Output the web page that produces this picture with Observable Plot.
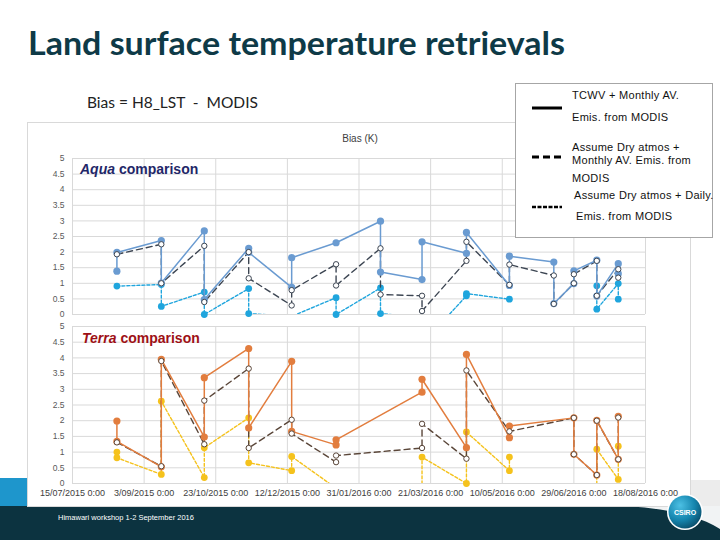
<!DOCTYPE html>
<html><head><meta charset="utf-8">
<script src="https://cdn.jsdelivr.net/npm/d3@7"></script>
<script src="https://cdn.jsdelivr.net/npm/@observablehq/plot@0.6"></script>
<style>
html,body{margin:0;padding:0;}
body{width:720px;height:540px;position:relative;overflow:hidden;background:#fff;font-family:"Liberation Sans",Arial,sans-serif;}
.layer{position:absolute;left:0;top:0;}
#aqua{position:absolute;left:27px;top:150px;}
#terra{position:absolute;left:27px;top:318px;}
</style></head><body>
<svg class="layer" width="720" height="540" id="bg">
  <defs>
    <radialGradient id="lg" cx="35%" cy="30%" r="75%">
      <stop offset="0" stop-color="#4cc0e4"/><stop offset="0.6" stop-color="#1585ae"/><stop offset="1" stop-color="#0a4f6c"/>
    </radialGradient>
  </defs>
  <rect x="0" y="478" width="30" height="30" fill="#1e96cc"/>
  <rect x="688" y="480" width="32" height="28" fill="#ececec"/>
  <rect x="0" y="506" width="720" height="34" fill="#0c3340"/>
  <path d="M 625 506 C 665 508 700 516 720 529 L 720 506 Z" fill="#f1f3f4"/>
  <rect x="27.5" y="122.5" width="663" height="384" fill="#fff" stroke="#d9d9d9"/>
  <text x="28" y="55" font-family="Lato" font-weight="700" font-size="32" fill="#0e3a47" textLength="537" lengthAdjust="spacingAndGlyphs">Land surface temperature retrievals</text>
  <text x="87" y="108" font-family="Lato" font-size="15.5" fill="#222" style="white-space:pre">Bias = H8_LST  -  MODIS</text>
  <text x="360" y="142" font-family="Liberation Sans" font-size="10" fill="#404040" text-anchor="middle">Bias (K)</text>
  <text x="58" y="520" font-family="Liberation Sans" font-size="7.5" fill="#ffffff">Himawari workshop 1-2 September 2016</text>
  <circle cx="685" cy="512" r="18" fill="#ffffff"/>
  <circle cx="685" cy="512" r="16.5" fill="url(#lg)"/>
  <text x="685" y="515" font-family="Liberation Sans" font-weight="700" font-size="7" fill="#ffffff" text-anchor="middle">CSIRO</text>
</svg>
<div id="aqua"></div>
<div id="terra"></div>
<svg class="layer" width="720" height="540" id="fg" style="pointer-events:none">
  <text x="80" y="174" font-family="Liberation Sans" font-weight="700" font-size="14" fill="#1f2768"><tspan font-style="italic">Aqua</tspan> comparison</text>
  <text x="82" y="343" font-family="Liberation Sans" font-weight="700" font-size="14" fill="#9e1016"><tspan font-style="italic">Terra</tspan> comparison</text>
  <g id="legend"></g>
</svg>
<script>
// ---------- data ----------
const xStart = "2015-07-15", xEnd = "2016-08-18";
const tickDateStrings = ["2015-07-15","2015-09-03","2015-10-23","2015-12-12","2016-01-31","2016-03-21","2016-05-10","2016-06-29","2016-08-18"];
const tickLabels = ["15/07/2015 0:00","3/09/2015 0:00","23/10/2015 0:00","12/12/2015 0:00","31/01/2016 0:00","21/03/2016 0:00","10/05/2016 0:00","29/06/2016 0:00","18/08/2016 0:00"];
const yTicks = [0,0.5,1,1.5,2,2.5,3,3.5,4,4.5,5];
const yLabels = ["0","0.5","1","1.5","2","2.5","3","3.5","4","4.5","5"];

const legendLabels = [["TCWV + Monthly AV.","Emis. from MODIS"],["Assume Dry atmos +","Monthly AV. Emis. from","MODIS"],["Assume Dry atmos + Daily.","Emis. from MODIS"]];

// Aqua: TCWV + monthly AV emissivity
const aquaSolidDates = ["2015-08-15","2015-08-15","2015-09-15","2015-09-15","2015-10-15","2015-10-15","2015-11-15","2015-11-15","2015-12-15","2015-12-15","2016-01-15","2016-02-15","2016-02-15","2016-03-15","2016-03-15","2016-04-15","2016-04-15","2016-05-15","2016-05-15","2016-06-15","2016-06-15","2016-06-29","2016-06-29","2016-07-15","2016-07-15","2016-07-30","2016-07-30"];
const aquaSolidValues = [1.39,1.99,2.37,1.01,2.68,0.48,2.12,1.99,0.87,1.82,2.30,2.99,1.36,1.12,2.33,1.96,2.63,0.93,1.87,1.68,0.35,0.99,1.40,1.74,0.59,1.63,1.31];
// Aqua: dry atmosphere + monthly AV emissivity
const aquaDryMonthlyDates = ["2015-08-15","2015-09-15","2015-09-15","2015-10-15","2015-10-15","2015-11-15","2015-11-15","2015-12-15","2015-12-15","2016-01-15","2016-01-15","2016-02-15","2016-02-15","2016-03-15","2016-03-15","2016-04-15","2016-04-15","2016-05-15","2016-05-15","2016-06-15","2016-06-15","2016-06-29","2016-06-29","2016-07-15","2016-07-15","2016-07-30","2016-07-30"];
const aquaDryMonthlyValues = [1.93,2.25,1.00,2.20,0.40,2.00,1.16,0.29,0.78,1.61,0.93,2.12,0.64,0.60,0.11,1.72,2.33,0.95,1.60,1.25,0.34,1.00,1.29,1.72,0.60,1.45,1.18];
// Aqua: dry atmosphere + daily emissivity
const aquaDryDailyDates = ["2015-08-15","2015-09-15","2015-09-15","2015-10-15","2015-10-15","2015-11-15","2015-11-15","2015-12-15","2016-01-15","2016-01-15","2016-02-15","2016-02-15","2016-03-15","2016-03-15","2016-04-15","2016-04-15","2016-05-15",null,"2016-07-15","2016-07-15","2016-07-30","2016-07-30"];
const aquaDryDailyValues = [0.91,0.96,0.26,0.72,0.00,0.83,0.03,-0.06,0.54,0.00,0.85,0.03,-0.10,-0.95,0.60,0.67,0.49,null,0.92,0.17,0.99,0.49];

// Terra
const terraSolidDates = ["2015-08-15","2015-08-15","2015-09-15","2015-09-15","2015-10-15","2015-10-15","2015-11-15","2015-11-15","2015-12-15","2015-12-15","2016-01-15","2016-01-15","2016-03-15","2016-03-15","2016-04-15","2016-04-15","2016-05-15","2016-05-15","2016-06-29","2016-06-29","2016-07-15","2016-07-15","2016-07-30","2016-07-30"];
const terraSolidValues = [1.99,1.34,0.53,3.95,1.48,3.37,4.30,1.77,3.89,1.66,1.23,1.39,2.91,3.32,1.14,4.11,1.46,1.83,2.09,0.93,0.27,2.01,0.77,2.14];
const terraDryMonthlyDates = ["2015-08-15","2015-09-15","2015-09-15","2015-10-15","2015-10-15","2015-11-15","2015-11-15","2015-12-15","2015-12-15","2016-01-15","2016-01-15","2016-03-15","2016-03-15","2016-04-15","2016-04-15","2016-05-15","2016-06-29","2016-06-29","2016-07-15","2016-07-15","2016-07-30","2016-07-30"];
const terraDryMonthlyValues = [1.31,0.55,3.90,1.25,2.64,3.66,1.13,2.03,1.59,0.68,0.89,1.13,1.90,0.79,3.60,1.66,2.09,0.93,0.27,2.00,0.77,2.10];
const terraDryDailyDates = ["2015-08-15","2015-08-15","2015-09-15","2015-09-15","2015-10-15","2015-10-15","2015-11-15","2015-11-15","2015-12-15","2015-12-15","2016-01-15","2016-03-15","2016-03-15","2016-04-15","2016-04-15","2016-05-15","2016-05-15",null,"2016-07-15","2016-07-15","2016-07-30","2016-07-30"];
const terraDryDailyValues = [1.00,0.82,0.29,2.62,0.19,1.14,2.09,0.66,0.41,0.86,-0.15,-0.60,0.84,0.00,1.64,0.41,0.84,null,-0.50,1.09,0.13,1.19];

// ---------- helpers ----------
const parse = d3.utcParse("%Y-%m-%d");
const rows = (dates, values) => dates.map((d, i) => ({date: d == null ? null : parse(d), value: values[i]}));
const tickDates = tickDateStrings.map(parse);
const fmtX = d => tickLabels[tickDates.findIndex(t => +t === +d)];
const fmtY = d => yLabels[yTicks.indexOf(d)];
const visible = d => d.value != null && d.value >= 0;

function chart({solid, dryM, dryD, cSolid, cDryM, cDryD, showX, height, marginBottom}) {
  const marks = [
    Plot.gridY(yTicks, {stroke: "#d9d9d9", strokeOpacity: 1}),
    Plot.gridX(tickDates, {stroke: "#d9d9d9", strokeOpacity: 1}),
    Plot.axisY({ticks: yTicks, tickFormat: fmtY, tickSize: 0, tickPadding: 8, label: null, fill: "#595959", fontSize: 8.5}),
    Plot.line(dryD, {x: "date", y: "value", stroke: cDryD, strokeWidth: 1.4, strokeDasharray: "3,2", clip: true}),
    Plot.dot(dryD.filter(visible), {x: "date", y: "value", r: 3.4, fill: cDryD}),
    Plot.line(dryM, {x: "date", y: "value", stroke: cDryM, strokeWidth: 1.4, strokeDasharray: "6,4", clip: true}),
    Plot.line(solid, {x: "date", y: "value", stroke: cSolid, strokeWidth: 1.5, clip: true}),
    Plot.dot(solid.filter(visible), {x: "date", y: "value", r: 3.6, fill: cSolid}),
    Plot.dot(dryM.filter(visible), {x: "date", y: "value", r: 2.7, fill: "white", stroke: cDryM, strokeWidth: 1})
  ];
  if (showX) marks.push(Plot.axisX({ticks: tickDates, tickFormat: fmtX, tickSize: 0, tickPadding: 6, label: null, fill: "#404040", fontSize: 9}));
  return Plot.plot({
    width: 663, height, marginLeft: 45, marginRight: 45, marginTop: 8, marginBottom,
    style: {fontFamily: "Liberation Sans", background: "transparent", overflow: "visible"},
    x: {type: "utc", domain: [parse(xStart), parse(xEnd)], axis: showX ? undefined : null},
    y: {domain: [0, 5]},
    marks
  });
}

document.getElementById("aqua").appendChild(chart({
  solid: rows(aquaSolidDates, aquaSolidValues),
  dryM: rows(aquaDryMonthlyDates, aquaDryMonthlyValues),
  dryD: rows(aquaDryDailyDates, aquaDryDailyValues),
  cSolid: "#6a9bd1", cDryM: "#3c4552", cDryD: "#1fa5dd",
  showX: false, height: 170, marginBottom: 6
}));
document.getElementById("terra").appendChild(chart({
  solid: rows(terraSolidDates, terraSolidValues),
  dryM: rows(terraDryMonthlyDates, terraDryMonthlyValues),
  dryD: rows(terraDryDailyDates, terraDryDailyValues),
  cSolid: "#e27d3e", cDryM: "#5a4639", cDryD: "#f5c21c",
  showX: true, height: 185, marginBottom: 20
}));

// ---------- legend box ----------
const ns = "http://www.w3.org/2000/svg";
const lg = document.getElementById("legend");
function el(tag, attrs, text) {
  const e = document.createElementNS(ns, tag);
  for (const k in attrs) e.setAttribute(k, attrs[k]);
  if (text) e.textContent = text;
  lg.appendChild(e);
  return e;
}
el("rect", {x: 515.5, y: 83.5, width: 197, height: 154, fill: "#fff", stroke: "#a6a6a6"});
const swatchY = [108, 157, 207];
const dashes = [null, "7,4", "4,1.5"];
swatchY.forEach((y, i) => {
  const a = {x1: 532, x2: 562, y1: y, y2: y, stroke: "#000", "stroke-width": i === 2 ? 2.5 : 3};
  if (dashes[i]) a["stroke-dasharray"] = dashes[i];
  el("line", a);
});
const lineY = [[99, 121], [151, 164, 182], [199, 220]];
const lineX = [[572, 572], [572, 572, 572], [574, 576]];
legendLabels.forEach((group, i) => group.forEach((t, j) => {
  el("text", {x: lineX[i][j], y: lineY[i][j], "font-family": "Liberation Sans", "font-size": 11, "letter-spacing": "0.3", fill: "#111"}, t);
}));
</script>
</body></html>
